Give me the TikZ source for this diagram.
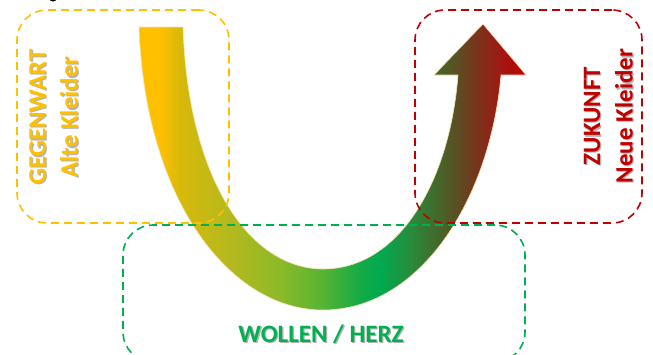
\documentclass[tikz,border=0pt]{standalone}
\usepackage{fontspec}
\setmainfont{Carlito}
\definecolor{cY}{RGB}{255,192,0}
\definecolor{cG}{RGB}{0,176,80}
\definecolor{cR}{RGB}{192,0,0}
\definecolor{cream}{RGB}{250,225,180}
\definecolor{s1}{RGB}{215,185,10}
\definecolor{s2}{RGB}{180,185,30}
\definecolor{s3}{RGB}{140,185,40}
\definecolor{s4}{RGB}{90,180,50}
\definecolor{s5}{RGB}{20,170,70}
\definecolor{s6}{RGB}{0,170,80}
\definecolor{s7}{RGB}{40,140,60}
\definecolor{s8}{RGB}{70,100,40}
\definecolor{s9}{RGB}{110,60,30}
\definecolor{s10}{RGB}{160,25,20}
\pgfdeclarehorizontalshading{arrowshade}{100bp}{color(0bp)=(cY); color(25bp)=(cY); color(27.7bp)=(cY); color(30.3bp)=(s1); color(36.8bp)=(s2); color(43.2bp)=(s3); color(48.4bp)=(s4); color(53.6bp)=(s5); color(56.1bp)=(s6); color(60bp)=(s7); color(63.9bp)=(s8); color(67.8bp)=(s9); color(71.6bp)=(s10); color(75bp)=(cR); color(100bp)=(cR)}
\tikzset{
  dbox/.style={draw, line width=1.6pt, dash pattern=on 8pt off 5pt, rounded corners=30pt, inner sep=0pt},
  lbl/.style={font=\bfseries\fontsize{25}{25}\selectfont, inner sep=0pt},
  shd/.style={lbl, text=black!30}
}
\begin{document}
\begin{tikzpicture}[x=1pt,y=-1pt]
\useasboundingbox (0,0) rectangle (653,354);
\begin{scope}
\clip (0,0) rectangle (653,354);
% small cut-off black mark at top
\fill[black] (53,-1) ellipse (3.5 and 2.5);
% arrow
\path[shading=arrowshade, draw=cream, line width=0.6pt]
  (139,27) .. controls (145,200) and (230,310) .. (323,310)
  .. controls (420,310) and (490,200) .. (501,75)
  -- (526,75) -- (483,24) -- (434,75) -- (458,75)
  .. controls (450,180) and (400,269) .. (323,269)
  .. controls (250,269) and (188,180) .. (183,27) -- cycle;
% boxes
\node[dbox, draw=cY, minimum width=212pt, minimum height=213pt] (now) at (123,116.5) {};
\node[dbox, draw=cR, minimum width=227pt, minimum height=213pt] (future) at (528.5,116.5) {};
\node[dbox, draw=cG, minimum width=402pt, minimum height=137pt] (will) at (324,293.5) {};
% labels with shadows
\node[shd, rotate=90] at (38.8,118.2) {GEGENWART};
\node[lbl, rotate=90, text=cY] (gw) at (37.5,117) {GEGENWART};
\node[shd, rotate=90] at (70.3,118.2) {Alte Kleider};
\node[lbl, rotate=90, text=cY] (ak) at (69,117) {Alte Kleider};
\node[shd, rotate=90] at (593.3,117.2) {ZUKUNFT};
\node[lbl, rotate=90, text=cR] (zk) at (592,116) {ZUKUNFT};
\node[shd, rotate=90] at (625.3,117.2) {Neue Kleider};
\node[lbl, rotate=90, text=cR] (nk) at (624,116) {Neue Kleider};
\node[shd] at (322.3,335.2) {WOLLEN / HERZ};
\node[lbl, text=cG] (wh) at (321,334) {WOLLEN / HERZ};
\end{scope}
\end{tikzpicture}
\end{document}
